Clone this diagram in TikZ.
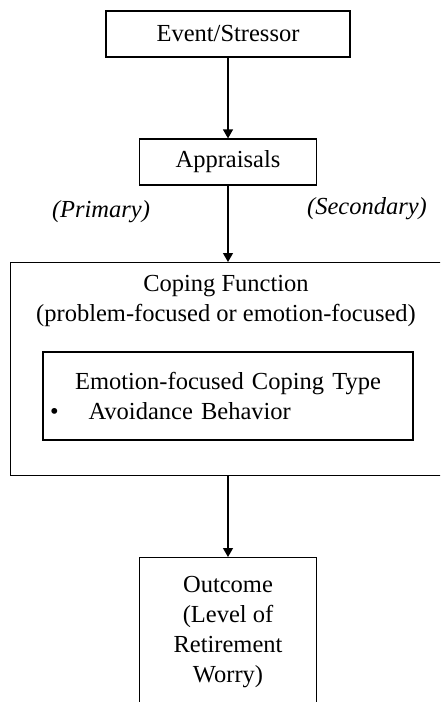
\documentclass[tikz,border=0pt]{standalone}
\usepackage{fontspec}
\setmainfont{Liberation Serif}
\usetikzlibrary{arrows.meta}

\begin{document}
\begin{tikzpicture}[x=1pt, y=-1pt,
        every node/.style={font=\fontsize{24.5}{30}\selectfont},
        box/.style={draw, line width=1.2pt, align=center, inner sep=0pt},
        arr/.style={line width=1.2pt, -{Triangle[width=10pt,length=9pt]}},
        lbl/.style={font=\fontsize{24.5}{30}\selectfont\itshape, anchor=base}]
        \def\midx{228}
        \def\boxw{177}

        \useasboundingbox (0,0) rectangle (440,702) ;
        \clip (0,0) rectangle (440,702) ;

        \node (event) [box, minimum width=244pt, minimum height=46pt] at (\midx,34) {Event/Stressor} ;
        \node (appraisals) [box, minimum width=\boxw pt, minimum height=46pt] at (\midx,162) {Appraisals} ;
        \node (primary) [lbl] at (101,217) {(Primary)} ;
        \node (secondary) [lbl] at (367,214) {(Secondary)} ;

        \node (coping) [box, anchor=north west, minimum width=436pt, minimum height=213pt] at (10,262) {} ;
        \node (copingtxt) [align=center] at (226,301) {Coping Function\\(problem-focused or emotion-focused)} ;
        \node (emotion) [box, minimum width=370pt, minimum height=88pt, text width=356pt, align=left] at (\midx,396)
                {\makebox[356pt][c]{Emotion-focused Coping Type}\\\textbullet\hspace{30pt}Avoidance Behavior} ;

        \node (outcome) [box, anchor=north, minimum width=\boxw pt, minimum height=148pt] at (\midx,557)
                {Outcome\\(Level of\\Retirement\\Worry)} ;

        \draw [arr] (event.south) -- (event.south |- appraisals.north) ;
        \draw [arr] (appraisals.south) -- (appraisals.south |- coping.north) ;
        \draw [arr] (outcome.north |- coping.south) -- (outcome.north) ;
\end{tikzpicture}
\end{document}
